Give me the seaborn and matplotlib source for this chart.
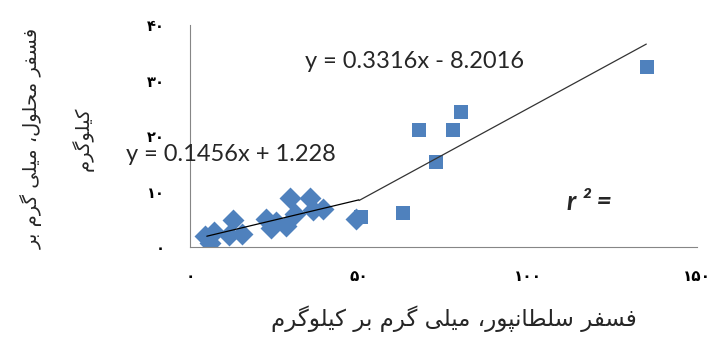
import numpy as np
import pandas as pd
import matplotlib
matplotlib.use("Agg")
import matplotlib.pyplot as plt
import seaborn as sns

# ---- data ----
diamond_x = [4.5, 6.0, 7.0, 11.5, 12.8, 15.5, 22.5, 24.0, 25.5, 28.5, 29.5, 31.0, 35.5, 36.5, 39.5, 49.0]
diamond_y = [2.0, 0.8, 2.8, 2.2, 4.8, 2.4, 5.0, 3.5, 4.5, 3.8, 8.8, 6.0, 8.8, 6.6, 6.8, 5.0]
square_x = [50.5, 63.0, 67.8, 72.8, 77.8, 80.2, 135.2]
square_y = [5.5, 6.1, 21.1, 15.3, 21.1, 24.3, 32.4]

trend1_slope, trend1_intercept = 0.1456, 1.228
trend1_x = [5.0, 50.0]
trend2_slope, trend2_intercept = 0.3316, -8.2016
trend2_x = [50.0, 135.0]

x_ticks = [0, 50, 100, 150]
y_ticks = [0, 10, 20, 30, 40]

x_label = "فسفر سلطانپور، میلی گرم بر کیلوگرم"
y_label_lines = ["فسفر محلول، میلی گرم بر", "کیلوگرم"]
eq1_text = "y = 0.1456x + 1.228"
eq2_text = "y = 0.3316x - 8.2016"
r2_text = "r ² ="

# ---- minimal Persian shaping (presentation forms, visual order) ----
FORMS = {  # iso, fin, ini, med
    'ف': ('\uFED1', '\uFED2', '\uFED3', '\uFED4'),
    'س': ('\uFEB1', '\uFEB2', '\uFEB3', '\uFEB4'),
    'م': ('\uFEE1', '\uFEE2', '\uFEE3', '\uFEE4'),
    'ح': ('\uFEA1', '\uFEA2', '\uFEA3', '\uFEA4'),
    'ل': ('\uFEDD', '\uFEDE', '\uFEDF', '\uFEE0'),
    'ی': ('\uFBFC', '\uFBFD', '\uFBFE', '\uFBFF'),
    'گ': ('\uFB92', '\uFB93', '\uFB94', '\uFB95'),
    'ب': ('\uFE8F', '\uFE90', '\uFE91', '\uFE92'),
    'ک': ('\uFB8E', '\uFB8F', '\uFB90', '\uFB91'),
    'ط': ('\uFEC1', '\uFEC2', '\uFEC3', '\uFEC4'),
    'ن': ('\uFEE5', '\uFEE6', '\uFEE7', '\uFEE8'),
    'پ': ('\uFB56', '\uFB57', '\uFB58', '\uFB59'),
    'ر': ('\uFEAD', '\uFEAE', None, None),
    'و': ('\uFEED', '\uFEEE', None, None),
    'ا': ('\uFE8D', '\uFE8E', None, None),
}


def dual(c):
    return c in FORMS and FORMS[c][2] is not None


def shape(text):
    out = []
    for i, c in enumerate(text):
        if c not in FORMS:
            out.append(c)
            continue
        prev = i > 0 and dual(text[i - 1])
        nxt = dual(c) and i + 1 < len(text) and text[i + 1] in FORMS
        iso, fin, ini, med = FORMS[c]
        if prev and nxt:
            out.append(med)
        elif prev:
            out.append(fin)
        elif nxt:
            out.append(ini)
        else:
            out.append(iso)
    return "".join(reversed(out))


def fa_digits(n):
    return "".join(chr(0x06F0 + int(d)) for d in str(n))


# ---- plot ----
sns.set_theme(style="white")
plt.rcParams['font.family'] = ['DejaVu Sans']

fig = plt.figure(figsize=(7.22, 3.38), dpi=100)
ax = fig.add_axes([0.263, 0.269, 0.7024, 0.657])

blue = "#4F81BD"
df_d = pd.DataFrame({"x": diamond_x, "y": diamond_y})
df_s = pd.DataFrame({"x": square_x, "y": square_y})
sns.scatterplot(data=df_d, x="x", y="y", marker="D", s=125, color=blue,
                edgecolor=blue, linewidth=0, ax=ax, zorder=2)
sns.scatterplot(data=df_s, x="x", y="y", marker="s", s=100, color=blue,
                edgecolor=blue, linewidth=0, ax=ax, zorder=2)

t1 = pd.DataFrame({"x": trend1_x,
                   "y": [trend1_slope * v + trend1_intercept for v in trend1_x]})
t2 = pd.DataFrame({"x": trend2_x,
                   "y": [trend2_slope * v + trend2_intercept for v in trend2_x]})
sns.lineplot(data=t1, x="x", y="y", color="black", lw=0.9, ax=ax, zorder=3)
sns.lineplot(data=t2, x="x", y="y", color="#333333", lw=0.9, ax=ax, zorder=3)

ax.set_xlim(0, 150)
ax.set_ylim(0, 40)
ax.set_xticks(x_ticks)
ax.set_yticks(y_ticks)
ax.set_xticklabels([fa_digits(v) for v in x_ticks], fontsize=11, fontweight="bold")
ax.set_yticklabels([fa_digits(v) for v in y_ticks], fontsize=10.5, fontweight="bold")
ax.tick_params(axis="both", direction="out", length=8, width=0.8, color="#868686",
               pad=10, labelcolor="black")
ax.tick_params(axis="x", pad=8)
for side in ["top", "right"]:
    ax.spines[side].set_visible(False)
for side in ["left", "bottom"]:
    ax.spines[side].set_color("#868686")
    ax.spines[side].set_linewidth(0.8)

ax.set_xlabel(shape(x_label), fontsize=16.5)
ax.xaxis.set_label_coords(0.52, -0.262)
ax.set_ylabel("\n".join(shape(l) for l in y_label_lines), fontsize=14,
              linespacing=2.7)
ax.yaxis.set_label_coords(-0.19, 0.49)

ax.text(-19, 16.7, eq1_text, fontsize=17, family="Lato", ha="left", va="center",
        clip_on=False)
ax.text(34, 33.5, eq2_text, fontsize=17, family="Lato", ha="left", va="center")
ax.text(111.5, 8.2, r2_text, fontsize=19, family="Lato", fontweight="bold",
        fontstyle="italic", ha="left", va="center")

fig.savefig("out.png", dpi=100)
